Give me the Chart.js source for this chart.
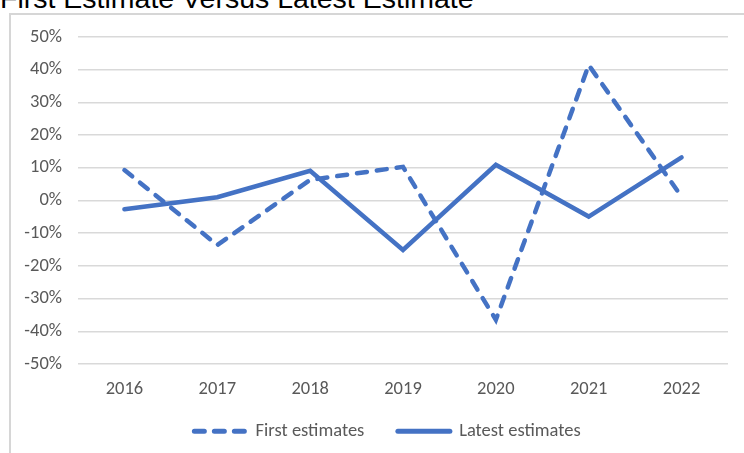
<!DOCTYPE html>
<html>
<head>
<meta charset="utf-8">
<script src="https://cdn.jsdelivr.net/npm/chart.js@4"></script>
<style>
    html, body {
        margin: 0;
        padding: 0;
        background: #ffffff;
        overflow: hidden;
    }

    .frame {
        position: relative;
        width: 744px;
        height: 453px;
        overflow: hidden;
    }

    .title {
        position: absolute;
        left: 0;
        top: -16px;
        font-family: "Liberation Sans", Arial, sans-serif;
        font-size: 28.5px;
        line-height: 28.5px;
        color: #000000;
        white-space: nowrap;
    }

    .box {
        position: absolute;
        left: 9px;
        top: 13px;
        width: 800px;
        height: 500px;
        border: 2px solid #d6d6d6;
    }

    #estimateChart {
        position: absolute;
        left: 0;
        top: 0;
    }
</style>
</head>
<body>
<div class="frame">
    <div class="title">First Estimate Versus Latest Estimate</div>
    <div class="box"></div>
    <canvas id="estimateChart" width="760" height="453"></canvas>
</div>

<script>
/* ==========================================
   DATA
========================================== */

const years = ["2016", "2017", "2018", "2019", "2020", "2021", "2022"];

const firstEstimates = [9.3, -13.6, 6.3, 10.3, -36.5, 41.4, 1.2];

const latestEstimates = [-2.7, 1.0, 9.1, -15.1, 10.9, -4.9, 13.2];

const yMin = -50;
const yMax = 50;
const yStep = 10;

/* ==========================================
   STYLE
========================================== */

const lineColor = "#4472C4";
const tickColor = "#595959";
const gridColor = "#d9d9d9";
const fontFamily = "Carlito, Lato, 'Open Sans', sans-serif";
const fontSize = 18.5;

document.addEventListener("DOMContentLoaded", () => {
    initializeEstimateChart();
});

/* ==========================================
   LEGEND ITEMS (keep the dash of the line)
========================================== */

function legendLabels(chart) {

    const items = Chart.defaults.plugins.legend.labels.generateLabels(chart);

    items.forEach((item, i) => {
        const dataset = chart.data.datasets[item.datasetIndex];
        item.lineDash = dataset.borderDash || [];
        item.lineCap = "round";
        item.lineWidth = 5;

        // a little extra room between the two entries
        if (i < items.length - 1) item.text += "   ";
    });

    return items;
}

/* ==========================================
   LINE CHART
========================================== */

function initializeEstimateChart() {

    const canvas = document.getElementById("estimateChart");

    if (!canvas) return;

    new Chart(canvas, {

        type: "line",

        data: {
            labels: years,

            datasets: [
                {
                    label: "First estimates",
                    data: firstEstimates,
                    borderColor: lineColor,
                    backgroundColor: lineColor,
                    borderWidth: 4.5,
                    borderDash: [10, 10],
                    borderCapStyle: "round",
                    pointRadius: 0,
                    tension: 0
                },
                {
                    label: "Latest estimates",
                    data: latestEstimates,
                    borderColor: lineColor,
                    backgroundColor: lineColor,
                    borderWidth: 4.5,
                    borderCapStyle: "round",
                    pointRadius: 0,
                    tension: 0
                }
            ]
        },

        options: {
            responsive: false,
            animation: false,

            layout: {
                padding: { left: 15, right: 0, top: 37, bottom: 2.5 }
            },

            plugins: {
                tooltip: { enabled: false },

                legend: {
                    position: "bottom",
                    labels: {
                        usePointStyle: true,
                        pointStyle: "line",
                        pointStyleWidth: 52,
                        padding: 21,
                        color: tickColor,
                        font: { family: fontFamily, size: fontSize },
                        generateLabels: legendLabels
                    }
                }
            },

            scales: {
                x: {
                    offset: true,
                    grid: { display: false, drawTicks: false },
                    border: { display: false },
                    ticks: {
                        padding: 14,
                        color: tickColor,
                        font: { family: fontFamily, size: fontSize }
                    },
                    afterFit: scale => { scale.height = 37; }
                },

                y: {
                    min: yMin,
                    max: yMax,
                    grid: { color: gridColor, lineWidth: 1.5, drawTicks: false },
                    border: { display: false },
                    ticks: {
                        stepSize: yStep,
                        padding: 16,
                        color: tickColor,
                        font: { family: fontFamily, size: fontSize },
                        callback: value => value + "%"
                    },
                    afterFit: scale => { scale.width = 63; }
                },

                // empty right-hand axis: keeps the plot narrower than the legend row
                yRight: {
                    position: "right",
                    min: yMin,
                    max: yMax,
                    grid: { display: false, drawTicks: false },
                    border: { display: false },
                    ticks: { display: false },
                    afterFit: scale => { scale.width = 32; }
                }
            }
        }
    });

}
</script>
</body>
</html>
